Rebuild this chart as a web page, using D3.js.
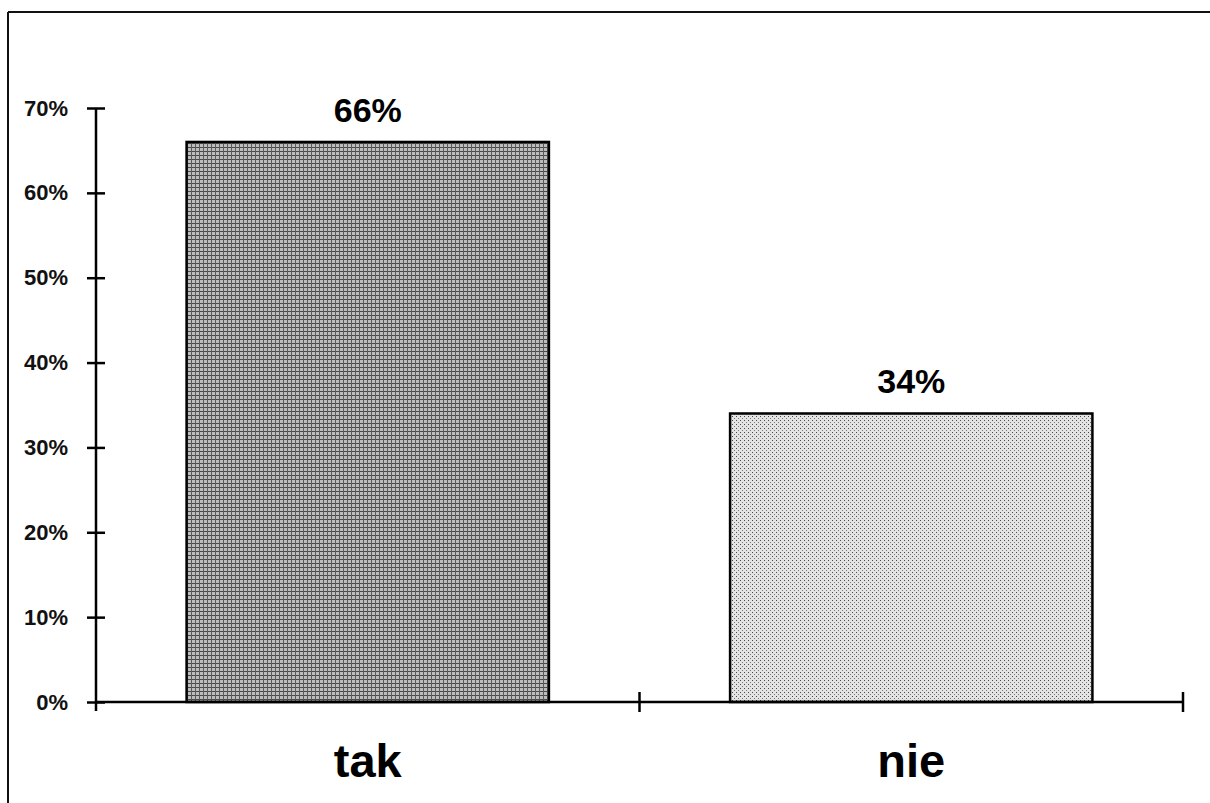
<!DOCTYPE html>
<html>
<head>
<meta charset="utf-8">
<script src="https://cdn.jsdelivr.net/npm/d3@7"></script>
<style>
  html, body { margin: 0; padding: 0; background: #fff; }
  svg { display: block; font-family: 'Liberation Sans', Arial, sans-serif; }
</style>
</head>
<body>
<svg id="chart" width="1210" height="803"></svg>
<script>
// data
const categories = ['tak', 'nie'];
const values = [66, 34];
const yTicks = [0, 10, 20, 30, 40, 50, 60, 70];

const width = 1210;
const height = 803;
const margin = { top: 108, right: 27, bottom: 101, left: 96 };
const innerWidth = width - margin.left - margin.right;
const innerHeight = height - margin.top - margin.bottom;

const svg = d3.select('#chart');

// halftone-ish fills
const defs = svg.append('defs');
const dark = defs.append('pattern')
  .attr('id', 'darkFill')
  .attr('patternUnits', 'userSpaceOnUse')
  .attr('width', 4).attr('height', 4);
dark.append('rect').attr('width', 4).attr('height', 4).attr('fill', '#bdbdbd');
dark.append('rect').attr('x', 0).attr('y', 3).attr('width', 4).attr('height', 1).attr('fill', '#4a4a4a');
dark.append('rect').attr('x', 3).attr('y', 0).attr('width', 1).attr('height', 4).attr('fill', '#5a5a5a');

const light = defs.append('pattern')
  .attr('id', 'lightFill')
  .attr('patternUnits', 'userSpaceOnUse')
  .attr('width', 4).attr('height', 4);
light.append('rect').attr('width', 4).attr('height', 4).attr('fill', '#e4e4e4');
light.append('rect').attr('x', 0).attr('y', 0).attr('width', 1).attr('height', 1).attr('fill', '#444');
light.append('rect').attr('x', 2).attr('y', 2).attr('width', 1).attr('height', 1).attr('fill', '#777');

// page frame (scanned border)
svg.append('line')
  .attr('x1', 8).attr('y1', 12).attr('x2', width).attr('y2', 12)
  .attr('stroke', '#111').attr('stroke-width', 2);
svg.append('line')
  .attr('x1', 8).attr('y1', 12).attr('x2', 8).attr('y2', height)
  .attr('stroke', '#111').attr('stroke-width', 2);

const g = svg.append('g')
  .attr('transform', `translate(${margin.left},${margin.top})`);

const x = d3.scaleBand()
  .domain(categories)
  .range([0, innerWidth])
  .paddingInner(1 / 3)
  .paddingOuter(1 / 6);

const y = d3.scaleLinear()
  .domain([0, 70])
  .range([innerHeight, 0]);

// bars
g.selectAll('rect.bar')
  .data(values)
  .enter()
  .append('rect')
  .attr('class', 'bar')
  .attr('x', (d, i) => x(categories[i]))
  .attr('y', d => y(d))
  .attr('width', x.bandwidth())
  .attr('height', d => y(0) - y(d))
  .attr('fill', (d, i) => i === 0 ? 'url(#darkFill)' : 'url(#lightFill)')
  .attr('stroke', '#000')
  .attr('stroke-width', 2.5);

// value labels
g.selectAll('text.value')
  .data(values)
  .enter()
  .append('text')
  .attr('class', 'value')
  .attr('x', (d, i) => x(categories[i]) + x.bandwidth() / 2)
  .attr('y', d => y(d) - 20)
  .attr('text-anchor', 'middle')
  .style('font-size', '34px')
  .style('font-weight', 'bold')
  .attr('fill', '#000')
  .text(d => d + '%');

// y axis
const yAxis = g.append('g')
  .call(d3.axisLeft(y)
    .tickValues(yTicks)
    .tickSize(9)
    .tickPadding(19)
    .tickFormat(d => d + '%'));

yAxis.attr('font-size', null).attr('font-family', null);
yAxis.select('.domain').remove();
yAxis.append('line')
  .attr('x1', 0).attr('x2', 0)
  .attr('y1', y(70)).attr('y2', y(0) + 9)
  .attr('stroke', '#000').attr('stroke-width', 2.5);
yAxis.selectAll('.tick line')
  .attr('x1', -9).attr('x2', 9)
  .attr('stroke', '#000').attr('stroke-width', 2.5);
yAxis.selectAll('.tick text')
  .style('font-size', '22px')
  .style('font-weight', 'bold')
  .style('font-family', "'Liberation Sans', Arial, sans-serif")
  .attr('fill', '#111');

// x axis
const xAxis = g.append('g')
  .attr('transform', `translate(0,${innerHeight})`);

xAxis.append('line')
  .attr('x1', 0).attr('x2', innerWidth)
  .attr('y1', 0).attr('y2', 0)
  .attr('stroke', '#000').attr('stroke-width', 2.5);

const edges = categories.map(c => x(c) + x.bandwidth() + x.step() * x.paddingInner() / 2);
edges[edges.length - 1] = innerWidth;
xAxis.selectAll('line.edge')
  .data(edges)
  .enter()
  .append('line')
  .attr('class', 'edge')
  .attr('x1', d => d).attr('x2', d => d)
  .attr('y1', -10).attr('y2', 10)
  .attr('stroke', '#000').attr('stroke-width', 2.5);

xAxis.selectAll('text.cat')
  .data(categories)
  .enter()
  .append('text')
  .attr('class', 'cat')
  .attr('x', d => x(d) + x.bandwidth() / 2)
  .attr('y', 75)
  .attr('text-anchor', 'middle')
  .style('font-size', '47px')
  .style('font-weight', 'bold')
  .attr('fill', '#000')
  .text(d => d);
</script>
</body>
</html>
